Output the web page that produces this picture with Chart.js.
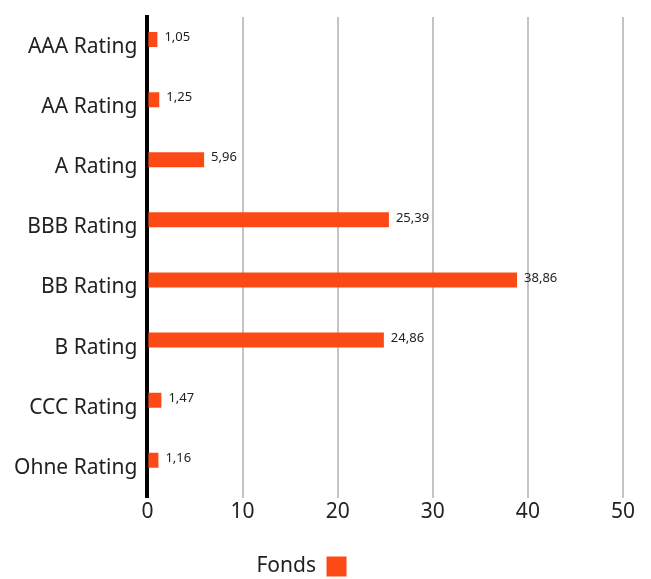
<!DOCTYPE html>
<html>
<head>
<meta charset="utf-8">
<script src="https://cdn.jsdelivr.net/npm/chart.js@4"></script>
<style>
body { margin: 0; background: #fff; }
#wrap { width: 651px; height: 579px; }
</style>
</head>
<body>
<div id="wrap"><canvas id="ratingChart"></canvas></div>
<script>
var categories = ["AAA Rating", "AA Rating", "A Rating", "BBB Rating", "BB Rating", "B Rating", "CCC Rating", "Ohne Rating"];
var fondsValues = [1.05, 1.25, 5.96, 25.39, 38.86, 24.86, 1.47, 1.16];
var emptyValues = [null, null, null, null, null, null, null, null];
var xTicks = [0, 10, 20, 30, 40, 50];

var fontName = "'Noto Sans', sans-serif";

// draw value labels at the end of each bar
var valueLabels = {
    id: 'valueLabels',
    afterDatasetsDraw: function(chart) {
        var ctx = chart.ctx;
        var meta = chart.getDatasetMeta(0);
        ctx.save();
        ctx.font = "13px " + fontName;
        ctx.fillStyle = "#222";
        ctx.textAlign = "left";
        ctx.textBaseline = "middle";
        meta.data.forEach(function(bar, i) {
            var txt = fondsValues[i].toFixed(2).replace(".", ",");
            ctx.fillText(txt, bar.x + 7, bar.y - 2);
        });
        ctx.restore();
    }
};

// nudge the legend a bit left and down, like the original
var legendNudge = {
    id: 'legendNudge',
    afterLayout: function(chart) {
        var lg = chart.legend;
        if (!lg) return;
        lg.left -= 16; lg.right -= 16;
        lg.top += 8; lg.bottom += 8;
    }
};

var ratingCanvas = document.getElementById("ratingChart");

var dataFirst = {
    label: "Fonds",
    data: fondsValues,
    backgroundColor: "#fc4a17",
    categoryPercentage: 0.5,
    barPercentage: 1.0
};

var dataSecond = {
    label: "",
    data: emptyValues,
    backgroundColor: "#999",
    categoryPercentage: 0.5,
    barPercentage: 1.0
};

var chart = new Chart(ratingCanvas, {
    type: 'bar',
    data: {
        labels: categories,
        datasets: [dataFirst, dataSecond]
    },
    plugins: [valueLabels, legendNudge],
    options: {
        indexAxis: 'y',
        responsive: true,
        maintainAspectRatio: false,
        animation: false,
        layout: { padding: { top: 17, right: 28, left: 12, bottom: 0 } },
        plugins: {
            legend: {
                display: true,
                position: 'bottom',
                rtl: true,
                labels: {
                    boxWidth: 20,
                    boxHeight: 20,
                    padding: 0,
                    color: '#222',
                    font: { family: fontName, size: 21 },
                    filter: function(item) { return item.datasetIndex === 0; }
                }
            },
            tooltip: { enabled: false }
        },
        scales: {
            x: {
                min: 0,
                max: 50,
                afterBuildTicks: function(axis) {
                    axis.ticks = xTicks.map(function(v) { return { value: v }; });
                },
                afterFit: function(axis) {
                    axis.height += 21;
                },
                grid: {
                    color: function(c) { return c.tick && c.tick.value === 0 ? 'rgba(0,0,0,0)' : '#c4c4c4'; },
                    lineWidth: 2,
                    drawTicks: false
                },
                border: { display: false },
                ticks: {
                    color: '#222',
                    padding: 2,
                    font: { family: fontName, size: 21 }
                }
            },
            y: {
                grid: { display: false },
                border: { display: true, color: '#000', width: 4 },
                ticks: {
                    color: '#222',
                    padding: 2,
                    font: { family: fontName, size: 21 }
                }
            }
        }
    }
});
</script>
</body>
</html>
